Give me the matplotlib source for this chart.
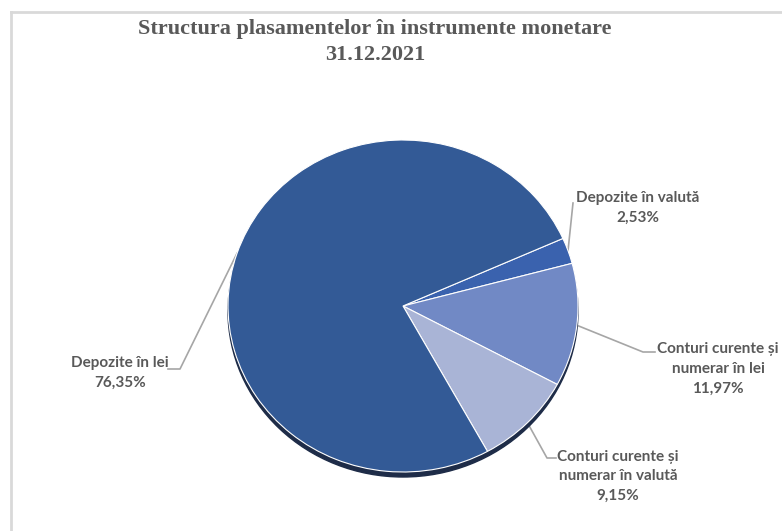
import numpy as np
import matplotlib.pyplot as plt
from matplotlib.patches import Ellipse

# date (procente)
categorii = ['Depozite în valută', 'Conturi curente și\nnumerar în lei',
             'Conturi curente și\nnumerar în valută', 'Depozite în lei']
valori = [2.53, 11.97, 9.15, 76.35]
culori = ['#3A62AE', '#7189C5', '#A9B4D6', '#335A96']
titlu = 'Structura plasamentelor în instrumente monetare\n31.12.2021'

W, H = 782, 531
fig = plt.figure(figsize=(W / 100, H / 100), dpi=100)
ax = fig.add_axes([0, 0, 1, 1])
ax.set_xlim(0, W)
ax.set_ylim(0, H)
ax.axis('off')

# placinta usor eliptica (px)
cx, cy, rx, ry = 403, 306, 175, 166
pax = fig.add_axes([(cx - rx) / W, (H - cy - ry) / H, 2 * rx / W, 2 * ry / H])

# umbra de sub placinta
pax.add_patch(Ellipse((0, -5 / ry), 2, 2, color='#1E2C48', zorder=0,
                      clip_on=False))

wedges, _ = pax.pie(valori, colors=culori, startangle=24, counterclock=False,
                    radius=1,
                    wedgeprops=dict(edgecolor='white', linewidth=0.8,
                                    clip_on=False))
pax.set_aspect('auto')
pax.set_xlim(-1, 1)
pax.set_ylim(-1, 1)
pax.axis('off')

# pozitii etichete (px) si coturi ale liniilor
etichete = [
    dict(xy=(638, 208), cot=[(573, 203)]),
    dict(xy=(718, 369), cot=[(643, 352), (655, 352)]),
    dict(xy=(618, 476), cot=[(547, 458), (556, 458)]),
    dict(xy=(120, 373), cot=[(180, 369), (168, 369)]),
]

for w, cat, v, e in zip(wedges, categorii, valori, etichete):
    ang = np.deg2rad((w.theta1 + w.theta2) / 2)
    x0, y0 = cx + rx * np.cos(ang), cy - ry * np.sin(ang)
    xs = [x0] + [p[0] for p in e['cot']]
    ys = [H - y0] + [H - p[1] for p in e['cot']]
    ax.plot(xs, ys, color='#A6A6A6', lw=1.2, zorder=3)
    txt = cat + '\n' + f'{v:.2f}'.replace('.', ',') + '%'
    ax.text(e['xy'][0], H - e['xy'][1], txt, ha='center', va='center',
            fontsize=11, fontweight='bold', color='#595959',
            family='Lato', linespacing=1.5)

ax.text(375, H - 42, titlu, ha='center', va='center', fontsize=16,
        fontweight='bold', color='#595959', family='Liberation Serif',
        linespacing=1.4)

# chenarul zonei graficului
ax.plot([11, 11], [0, H - 12], color='#D9D9D9', lw=2, zorder=5)
ax.plot([11, W], [H - 12, H - 12], color='#D9D9D9', lw=2, zorder=5)

fig.savefig('out.png', dpi=100)
